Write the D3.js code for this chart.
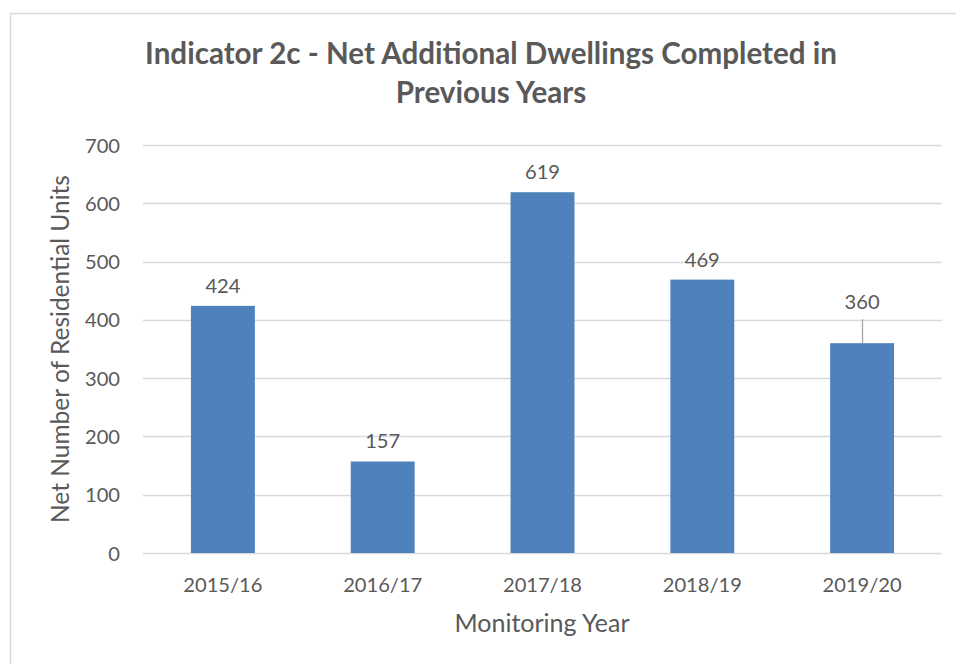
<!DOCTYPE html>
<html>
<head>
<meta charset="utf-8">
<script src="https://cdn.jsdelivr.net/npm/d3@7"></script>
<style>
  html, body { margin: 0; padding: 0; background: #ffffff; }
  svg { display: block; }
  text { font-family: Lato, "Open Sans", "Liberation Sans", sans-serif; }
</style>
</head>
<body>
<svg id="chart" width="956" height="664"></svg>
<script>
// ---- data ----
const categories = ["2015/16", "2016/17", "2017/18", "2018/19", "2019/20"];
const values = [424, 157, 619, 469, 360];
const yTicks = [0, 100, 200, 300, 400, 500, 600, 700];
const titleLines = ["Indicator 2c - Net Additional Dwellings Completed in", "Previous Years"];
const xAxisTitle = "Monitoring Year";
const yAxisTitle = "Net Number of Residential Units";

// ---- layout ----
const W = 956, H = 664;
const plot = { left: 143, right: 942, top: 145, bottom: 553 };
const textColor = "#595959";
const gridColor = "#D9D9D9";
const barColor = "#4F81BD";

const svg = d3.select("#chart");

// helper: fit font-size so a text spans a target width
function fit(sel, targetWidth) {
  const node = sel.node();
  const base = parseFloat(sel.attr("font-size"));
  const w = node.getComputedTextLength();
  sel.attr("font-size", (base * targetWidth / w).toFixed(2));
  return base * targetWidth / w;
}

// outer chart border
svg.append("rect")
  .attr("x", 10.5).attr("y", 13.5)
  .attr("width", W + 20).attr("height", H + 20)
  .attr("fill", "#ffffff").attr("stroke", gridColor).attr("stroke-width", 1.5);

const x = d3.scaleBand().domain(categories).range([plot.left, plot.right]).paddingInner(0.6).paddingOuter(0.3);
const y = d3.scaleLinear().domain([0, 700]).range([plot.bottom, plot.top]);

// gridlines
svg.append("g").selectAll("line").data(yTicks).join("line")
  .attr("x1", plot.left).attr("x2", plot.right)
  .attr("y1", d => Math.round(y(d)) + 0.5).attr("y2", d => Math.round(y(d)) + 0.5)
  .attr("stroke", gridColor).attr("stroke-width", 1.3);

// y tick labels via axis
const yAxis = svg.append("g")
  .attr("transform", `translate(${plot.left - 23},0)`)
  .call(d3.axisLeft(y).tickValues(yTicks).tickSize(0).tickPadding(0));
yAxis.select(".domain").remove();
yAxis.selectAll("text").attr("fill", textColor).attr("font-size", 20).attr("dy", "0.35em");
const tickSize = fit(yAxis.selectAll("text").filter(d => d === 700), 35);
yAxis.selectAll("text").attr("font-size", tickSize.toFixed(2)).attr("font-family", "Lato, sans-serif");

// x tick labels via axis
const xAxis = svg.append("g")
  .attr("transform", `translate(0,${plot.bottom})`)
  .call(d3.axisBottom(x).tickSize(0).tickPadding(0));
xAxis.select(".domain").remove();
xAxis.selectAll("text").attr("fill", textColor).attr("font-size", tickSize.toFixed(2))
  .attr("dy", 0).attr("y", 39);

// bars
svg.append("g").selectAll("rect").data(values).join("rect")
  .attr("x", (d, i) => x(categories[i]))
  .attr("width", x.bandwidth())
  .attr("y", d => y(d))
  .attr("height", d => y(0) - y(d))
  .attr("fill", barColor);

// data labels
const labelLift = (d, i) => (categories[i] === "2019/20" ? 34 : 13);
svg.append("g").selectAll("text").data(values).join("text")
  .attr("x", (d, i) => x(categories[i]) + x.bandwidth() / 2)
  .attr("y", (d, i) => y(d) - labelLift(d, i))
  .attr("text-anchor", "middle")
  .attr("fill", textColor)
  .attr("font-size", tickSize.toFixed(2))
  .text(d => d);

// leader line for the moved label
categories.forEach((c, i) => {
  if (c === "2019/20") {
    const cx = Math.round(x(c) + x.bandwidth() / 2) + 0.5;
    svg.append("line")
      .attr("x1", cx).attr("x2", cx)
      .attr("y1", y(values[i]) - 24).attr("y2", y(values[i]))
      .attr("stroke", "#A6A6A6").attr("stroke-width", 1.3);
  }
});

// title
const t1 = svg.append("text").attr("x", 491).attr("y", 64)
  .attr("text-anchor", "middle").attr("font-weight", "bold")
  .attr("fill", textColor).attr("font-size", 26).text(titleLines[0]);
const titleSize = fit(t1, 692);
svg.append("text").attr("x", 491).attr("y", 103)
  .attr("text-anchor", "middle").attr("font-weight", "bold")
  .attr("fill", textColor).attr("font-size", titleSize.toFixed(2)).text(titleLines[1]);

// axis titles
const xt = svg.append("text").attr("x", 542).attr("y", 632)
  .attr("text-anchor", "middle").attr("fill", textColor).attr("font-size", 22)
  .text(xAxisTitle);
fit(xt, 175);

const yt = svg.append("text")
  .attr("transform", `translate(69,${(175 + 523) / 2}) rotate(-90)`)
  .attr("text-anchor", "middle").attr("fill", textColor).attr("font-size", 22)
  .text(yAxisTitle);
fit(yt, 348);
</script>
</body>
</html>
